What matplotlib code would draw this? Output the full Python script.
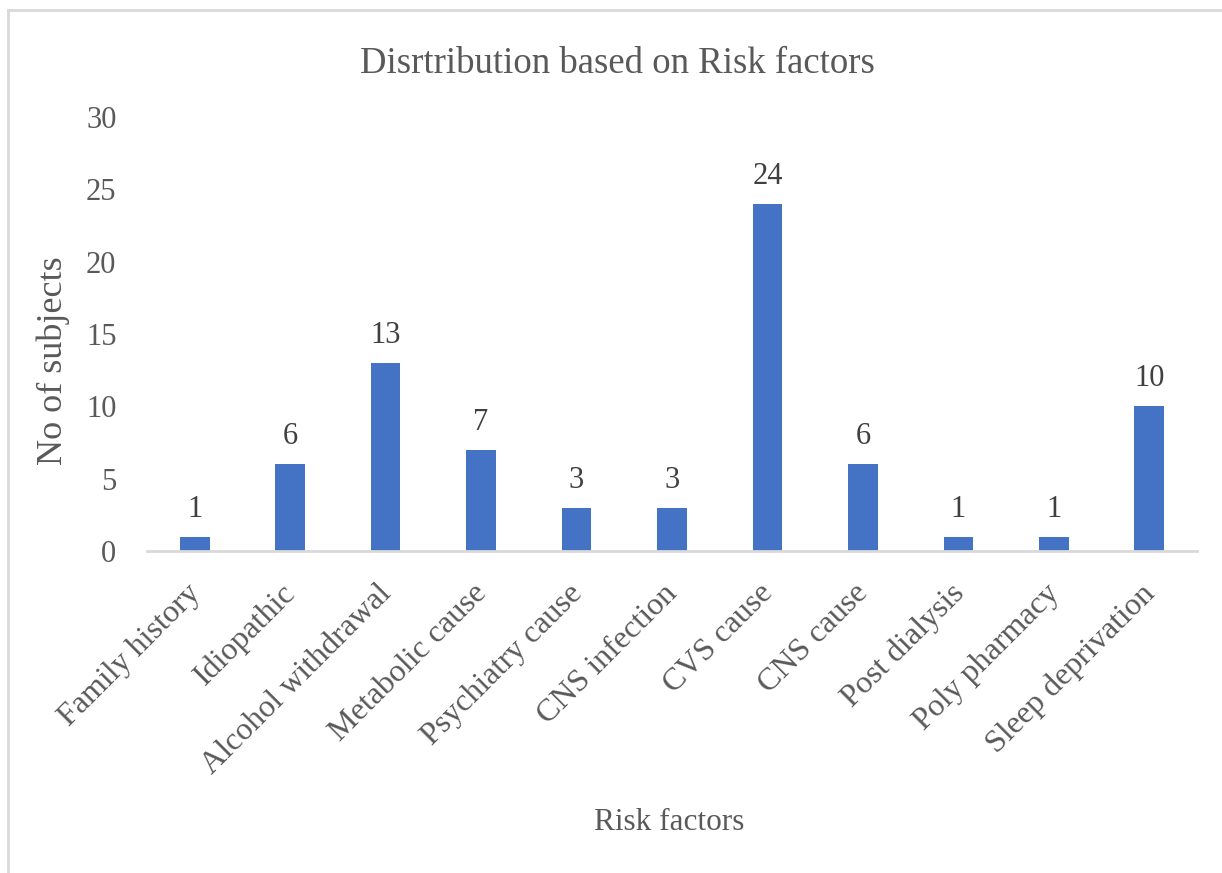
import matplotlib
matplotlib.use("Agg")
import matplotlib.pyplot as plt
import matplotlib.transforms as mtransforms
from matplotlib.lines import Line2D

categories = ["Family history", "Idiopathic", "Alcohol withdrawal", "Metabolic cause",
              "Psychiatry cause", "CNS infection", "CVS cause", "CNS cause",
              "Post dialysis", "Poly pharmacy", "Sleep deprivation"]
subjects = [1, 6, 13, 7, 3, 3, 24, 6, 1, 1, 10]
y_ticks = [0, 5, 10, 15, 20, 25, 30]

plt.rcParams['font.family'] = ['Liberation Serif', 'DejaVu Serif']

W, H = 1222, 873
fig = plt.figure(figsize=(W / 100, H / 100), dpi=100)
fig.patch.set_facecolor("white")

# chart frame
fx0, fy1 = 8 / W, 1 - 10 / H
fig.add_artist(Line2D([fx0, fx0], [0, fy1], transform=fig.transFigure, color="#d9d9d9", lw=2))
fig.add_artist(Line2D([fx0, 1], [fy1, fy1], transform=fig.transFigure, color="#d9d9d9", lw=2))

ax_l, ax_r, ax_t, ax_b = 147, 1197, 117, 551
ax = fig.add_axes([ax_l / W, 1 - ax_b / H, (ax_r - ax_l) / W, (ax_b - ax_t) / H])

x = range(len(categories))
bars = ax.bar(x, subjects, width=0.31, color="#4472c4", zorder=2)
for xi, v in zip(x, subjects):
    ax.text(xi, v + 0.9, str(v), ha="center", va="bottom", fontsize=22, color="#404040")

ax.set_xlim(-0.5, len(categories) - 0.5)
ax.set_ylim(0, 30)
ax.set_yticks(y_ticks)
ax.set_yticklabels([str(t) for t in y_ticks], fontsize=22, color="#595959")
ax.set_xticks(list(x))
ax.set_xticklabels(categories, rotation=45, ha="right", rotation_mode="anchor",
                   fontsize=23, color="#595959")
ax.tick_params(axis="both", length=0)
ax.tick_params(axis="y", pad=22)
ax.tick_params(axis="x", pad=20)
shift = mtransforms.ScaledTranslation(-9 / 100, 0, fig.dpi_scale_trans)
for lbl in ax.get_xticklabels():
    lbl.set_transform(lbl.get_transform() + shift)
for s in ["top", "right", "left"]:
    ax.spines[s].set_visible(False)
ax.spines["bottom"].set_color("#d9d9d9")
ax.spines["bottom"].set_linewidth(2)

fig.text(617 / W, 1 - 73 / H, "Disrtribution based on Risk factors", ha="center", va="baseline",
         fontsize=26.5, color="#595959")
fig.text(53 / W, 1 - 361 / H, "No of subjects", rotation=90, ha="center", va="center",
         fontsize=26, color="#595959")
fig.text(669 / W, 1 - 822 / H, "Risk factors", ha="center", va="center",
         fontsize=22.5, color="#595959")

fig.savefig("out.png", dpi=100, facecolor="white")
